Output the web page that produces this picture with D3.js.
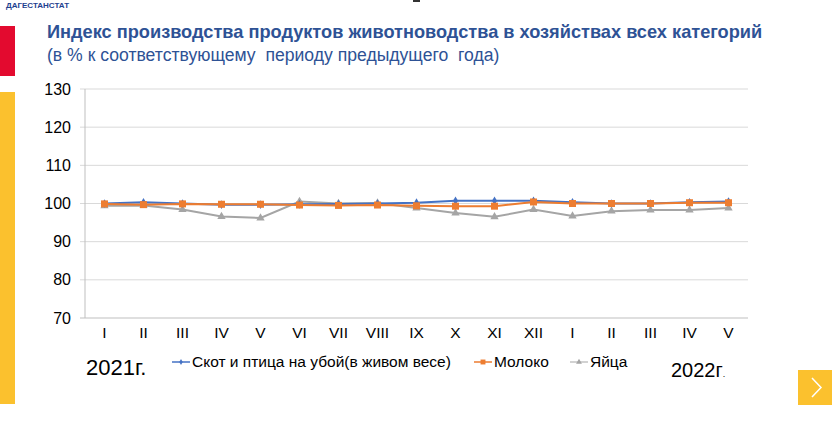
<!DOCTYPE html>
<html>
<head>
<meta charset="utf-8">
<script src="https://cdn.jsdelivr.net/npm/d3@7"></script>
<style>
  html, body { margin: 0; padding: 0; background: #fff; }
  svg { display: block; font-family: "Liberation Sans", Arial, sans-serif; }
</style>
</head>
<body>
<div id="viz"></div>
<script>
// Months: Jan 2021 .. May 2022
const MONTHS = ["I", "II", "III", "IV", "V", "VI", "VII", "VIII", "IX", "X", "XI", "XII",
                "I", "II", "III", "IV", "V"];
const LIVESTOCK = [100.0, 100.3, 100.0, 99.7, 99.7, 99.8, 99.9, 100.0, 100.2, 100.7, 100.7, 100.7,
                   100.3, 100.0, 100.0, 100.3, 100.5];
const MILK = [99.9, 99.7, 99.9, 99.8, 99.8, 99.6, 99.5, 99.6, 99.4, 99.3, 99.3, 100.4,
              100.0, 100.0, 100.0, 100.2, 100.2];
const EGGS = [99.4, 99.5, 98.4, 96.6, 96.2, 100.5, 100.0, 100.1, 98.8, 97.5, 96.5, 98.4,
              96.7, 98.0, 98.3, 98.3, 98.8];
const Y_TICKS = [70, 80, 90, 100, 110, 120, 130];

const SERIES = [
  { name: "Скот и птица на убой(в живом весе)", values: LIVESTOCK, color: "#4472C4", marker: "diamond" },
  { name: "Молоко", values: MILK, color: "#ED7D31", marker: "square" },
  { name: "Яйца", values: EGGS, color: "#A5A5A5", marker: "triangle" }
];

const W = 832, H = 432;
const svg = d3.select("#viz").append("svg").attr("width", W).attr("height", H);

// slide decorations
svg.append("text").attr("x", 6).attr("y", 8).attr("fill", "#1F3F8F")
  .attr("font-size", 8).attr("font-weight", "bold").text("ДАГЕСТАНСТАТ");
svg.append("rect").attr("x", 413).attr("y", 0).attr("width", 7).attr("height", 2).attr("fill", "#333");
svg.append("rect").attr("x", 0).attr("y", 26).attr("width", 15).attr("height", 50).attr("fill", "#E30A2F");
svg.append("rect").attr("x", 0).attr("y", 92).attr("width", 15).attr("height", 312).attr("fill", "#FBC12E");

// title
svg.append("text").attr("x", 47).attr("y", 38).attr("fill", "#2E5295")
  .attr("font-size", 18.2).attr("font-weight", "bold")
  .text("Индекс производства продуктов животноводства в хозяйствах всех категорий");
svg.append("text").attr("x", 47).attr("y", 61).attr("fill", "#2E5295")
  .attr("font-size", 17.6).style("white-space", "pre")
  .text("(в % к соответствующему  периоду предыдущего  года)");

// chart area
const plotL = 85, plotR = 748, plotT = 89, plotB = 318;
const x = d3.scaleBand().domain(d3.range(MONTHS.length)).range([plotL, plotR]);
const y = d3.scaleLinear().domain([70, 130]).range([plotB, plotT]);
const cx = i => x(i) + x.bandwidth() / 2;

svg.append("g").selectAll("line").data(Y_TICKS).join("line")
  .attr("x1", plotL - 5).attr("x2", plotR)
  .attr("y1", d => y(d)).attr("y2", d => y(d))
  .attr("stroke", d => d === 70 ? "#BFBFBF" : "#D9D9D9").attr("stroke-width", 1);
svg.append("line").attr("x1", plotL).attr("x2", plotL).attr("y1", plotT).attr("y2", plotB)
  .attr("stroke", "#BFBFBF");

svg.append("g").selectAll("text").data(Y_TICKS).join("text")
  .attr("x", 71).attr("y", d => y(d)).attr("dy", "0.35em").attr("text-anchor", "end")
  .attr("font-size", 16).attr("fill", "#000").text(d => d);

svg.append("g").selectAll("text").data(MONTHS).join("text")
  .attr("x", (d, i) => cx(i)).attr("y", 338).attr("text-anchor", "middle")
  .attr("font-size", 15.5).attr("fill", "#000").text(d => d);

function marker(sel, type, color) {
  if (type === "diamond") {
    sel.append("path").attr("d", d3.symbol(d3.symbolDiamond, 22)()).attr("fill", color);
  } else if (type === "square") {
    sel.append("rect").attr("x", -3.5).attr("y", -3.5).attr("width", 7).attr("height", 7).attr("fill", color);
  } else {
    sel.append("path").attr("d", d3.symbol(d3.symbolTriangle, 30)()).attr("fill", color);
  }
}

const line = d3.line().x((d, i) => cx(i)).y(d => y(d));
// eggs first, then livestock, milk on top
const order = [SERIES[2], SERIES[0], SERIES[1]];
order.forEach(s => {
  svg.append("path").datum(s.values).attr("d", line)
    .attr("fill", "none").attr("stroke", s.color).attr("stroke-width", 2);
  svg.append("g").selectAll("g").data(s.values).join("g")
    .attr("transform", (d, i) => `translate(${cx(i)},${y(d)})`)
    .each(function () { marker(d3.select(this), s.marker, s.color); });
});

// legend
const legendItems = [
  { s: SERIES[0], lx: 172 },
  { s: SERIES[1], lx: 474 },
  { s: SERIES[2], lx: 570 }
];
legendItems.forEach(({ s, lx }) => {
  const g = svg.append("g").attr("transform", `translate(${lx},362)`);
  g.append("line").attr("x1", 0).attr("x2", 18).attr("stroke", s.color).attr("stroke-width", s.marker === "triangle" ? 1 : 1.5);
  const m = g.append("g").attr("transform", "translate(9,0) scale(0.7)");
  marker(m, s.marker, s.color);
  g.append("text").attr("x", 20).attr("dy", "0.35em").attr("font-size", 15.5).attr("fill", "#000").text(s.name);
});

svg.append("text").attr("x", 86).attr("y", 375).attr("font-size", 22).attr("fill", "#000").text("2021г.");
const y22 = svg.append("text").attr("x", 671).attr("y", 377).attr("font-size", 20).attr("fill", "#000");
y22.append("tspan").text("2022г");
y22.append("tspan").attr("font-size", 9).text(".");

// next button
svg.append("rect").attr("x", 798).attr("y", 370).attr("width", 34).attr("height", 35).attr("fill", "#FBC12E");
svg.append("path").attr("d", "M812,378 L821,387.5 L812,397").attr("fill", "none")
  .attr("stroke", "#fff").attr("stroke-width", 1.5);
</script>
</body>
</html>
